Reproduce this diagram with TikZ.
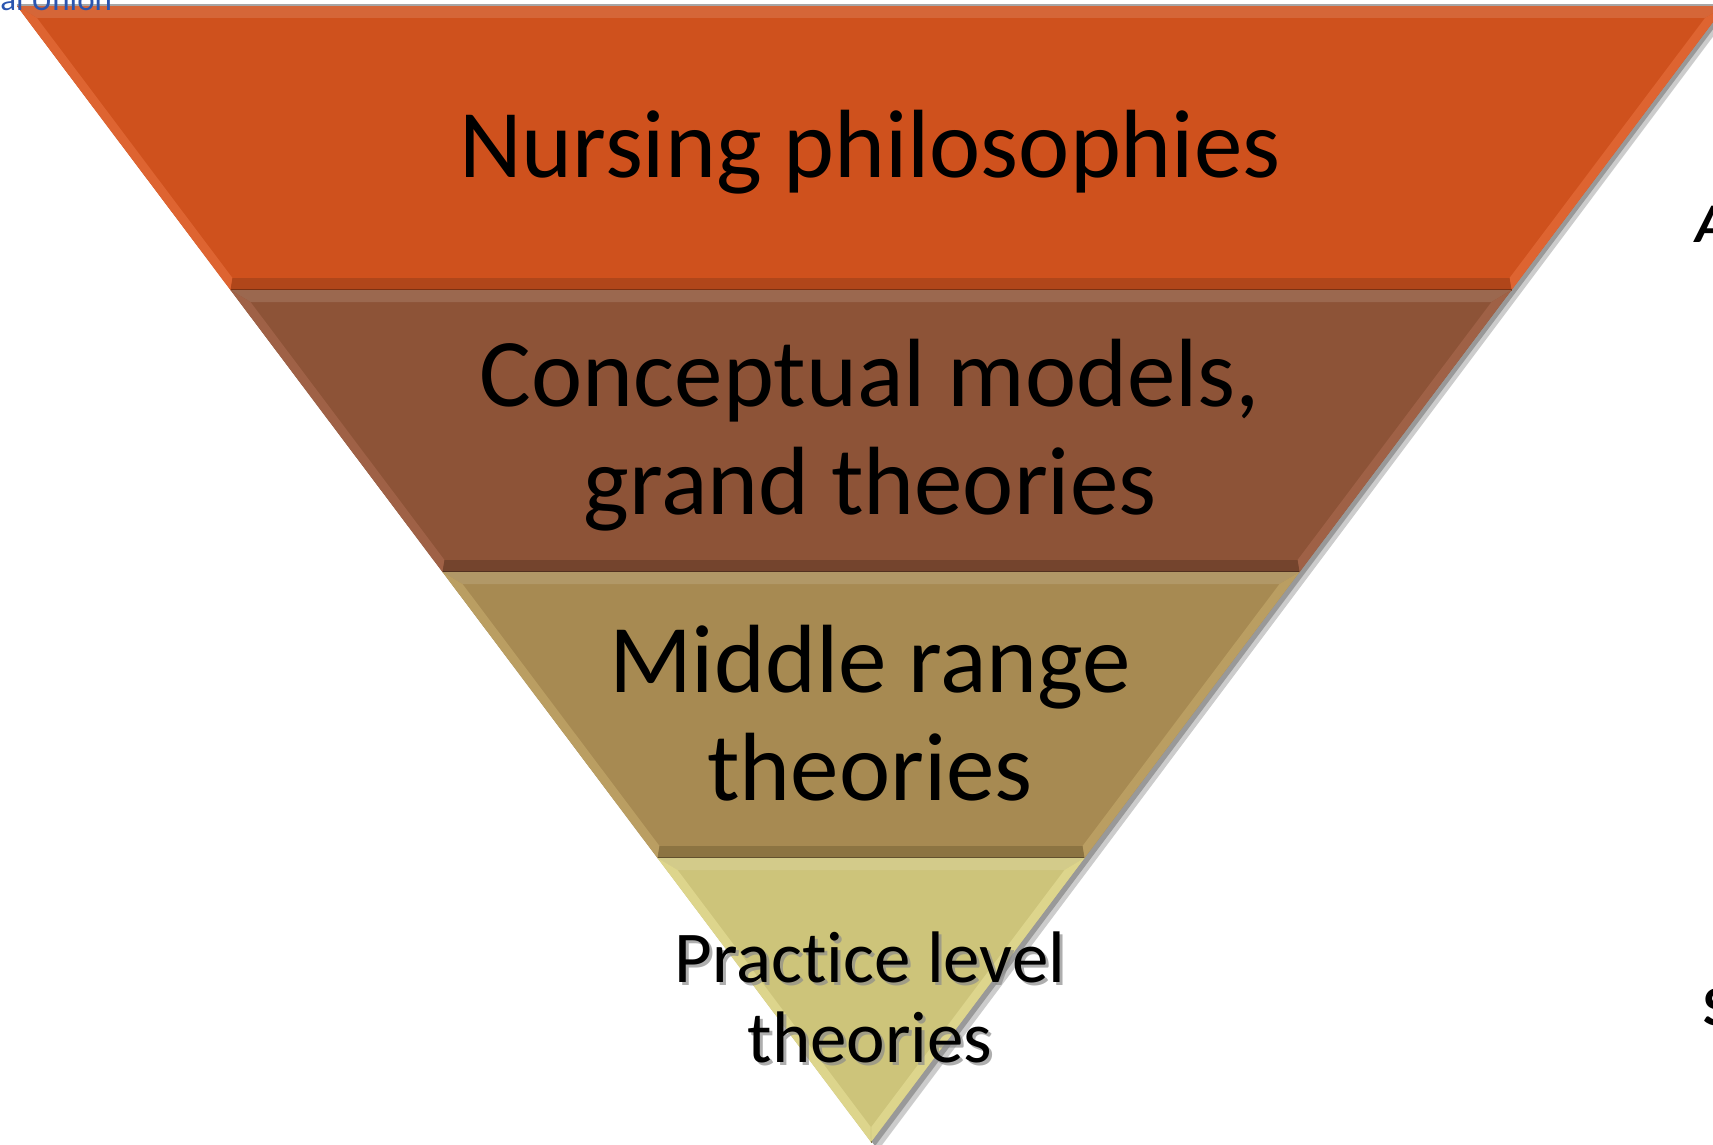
\documentclass[tikz,border=0pt]{standalone}
\usepackage{fontspec}
\setmainfont{Carlito}[Ligatures=CommonOff]
\begin{document}
\begin{tikzpicture}[x=0.5pt,y=-0.5pt,
  lbl/.style={font=\fontsize{48.5pt}{54pt}\selectfont, align=center, inner sep=0pt, anchor=base},
  smalllbl/.style={font=\fontsize{36.5pt}{40pt}\selectfont, align=center, inner sep=0pt, anchor=base}]
\useasboundingbox (0,0) rectangle (1713,1145);
\clip (0,0) rectangle (1713,1145);
\fill[white] (0,0) rectangle (1713,1145);
\newcommand{\mkband}[6]{%
  \pgfmathsetmacro{\xLt}{17+0.7518*(#1-6)}%
  \pgfmathsetmacro{\xRt}{1725-0.7518*(#1-6)}%
  \pgfmathsetmacro{\xLb}{17+0.7518*(#2-6)}%
  \pgfmathsetmacro{\xRb}{1725-0.7518*(#2-6)}%
  \pgfmathsetmacro{\yti}{#1+12}%
  \pgfmathsetmacro{\ybi}{#6}%
  \pgfmathsetmacro{\xLti}{17+0.7518*(\yti-6)+11}%
  \pgfmathsetmacro{\xRti}{1725-0.7518*(\yti-6)-11}%
  \pgfmathsetmacro{\xLbi}{17+0.7518*(\ybi-6)+11}%
  \pgfmathsetmacro{\xRbi}{1725-0.7518*(\ybi-6)-11}%
  \fill[#3] (\xLt,#1) -- (\xRt,#1) -- (\xRb,#2) -- (\xLb,#2) -- cycle;
  \fill[#3!88!white] (\xLt,#1) -- (\xRt,#1) -- (\xRti,\yti) -- (\xLti,\yti) -- cycle;
  \fill[#4] (\xLt,#1) -- (\xLti,\yti) -- (\xLbi,\ybi) -- (\xLb,#2) -- cycle;
  \fill[#4] (\xRt,#1) -- (\xRti,\yti) -- (\xRbi,\ybi) -- (\xRb,#2) -- cycle;
  \fill[#5] (\xLb,#2) -- (\xLbi,\ybi) -- (\xRbi,\ybi) -- (\xRb,#2) -- cycle;
  \draw[#5!70!black, line width=1.2] (\xLb,#2) -- (\xRb,#2);
}
% soft drop shadow
\fill[black!20] (25,10) -- (1733,10) -- (879,1149) -- cycle;
\fill[black!40] (21,8) -- (1729,8) -- (875,1146) -- cycle;
% bands
\definecolor{bandA}{HTML}{CF511D}
\definecolor{bandAl}{HTML}{DE6431}
\definecolor{bandAd}{HTML}{B0461A}
\definecolor{bandB}{HTML}{8D5337}
\definecolor{bandBl}{HTML}{9F6146}
\definecolor{bandBd}{HTML}{74442D}
\definecolor{bandC}{HTML}{A78A52}
\definecolor{bandCl}{HTML}{BA9E62}
\definecolor{bandCd}{HTML}{8C7442}
\definecolor{bandD}{HTML}{CDC47A}
\definecolor{bandDl}{HTML}{DDD58C}
\definecolor{bandDd}{HTML}{B8AF66}
\mkband{6}{290}{bandA}{bandAl}{bandAd}{278}
\mkband{290}{572}{bandB}{bandBl}{bandBd}{560}
\mkband{572}{858}{bandC}{bandCl}{bandCd}{846}
\mkband{858}{1142}{bandD}{bandDl}{bandDd}{1127}
\draw[black!35, line width=0.8] (17,5) -- (1725,5);
% labels
\node[lbl] (nursing) at (870,177) {Nursing philosophies};
\node[lbl] (concept) at (870,514) {Conceptual models,\\grand theories};
\node[lbl] (middle) at (870,800) {Middle range\\theories};
\node[smalllbl, text=black!45, opacity=0.7] (practiceshadow) at (873,1065) {Practice level\\theories};
\node[smalllbl] (practice) at (870,1062) {Practice level\\theories};
% cropped fragments
\node[font=\fontsize{16.5pt}{18pt}\selectfont, text={rgb,255:red,42;green,85;blue,176}, anchor=base west, inner sep=0pt] (union) at (0,11) {al Union};
\node[font=\fontsize{28pt}{30pt}\selectfont\bfseries\itshape, anchor=base west, inner sep=0pt] (fragA) at (1695,242) {A};
\node[font=\fontsize{28pt}{30pt}\selectfont\bfseries, anchor=base west, inner sep=0pt] (fragS) at (1703,1025) {S};
\end{tikzpicture}
\end{document}
